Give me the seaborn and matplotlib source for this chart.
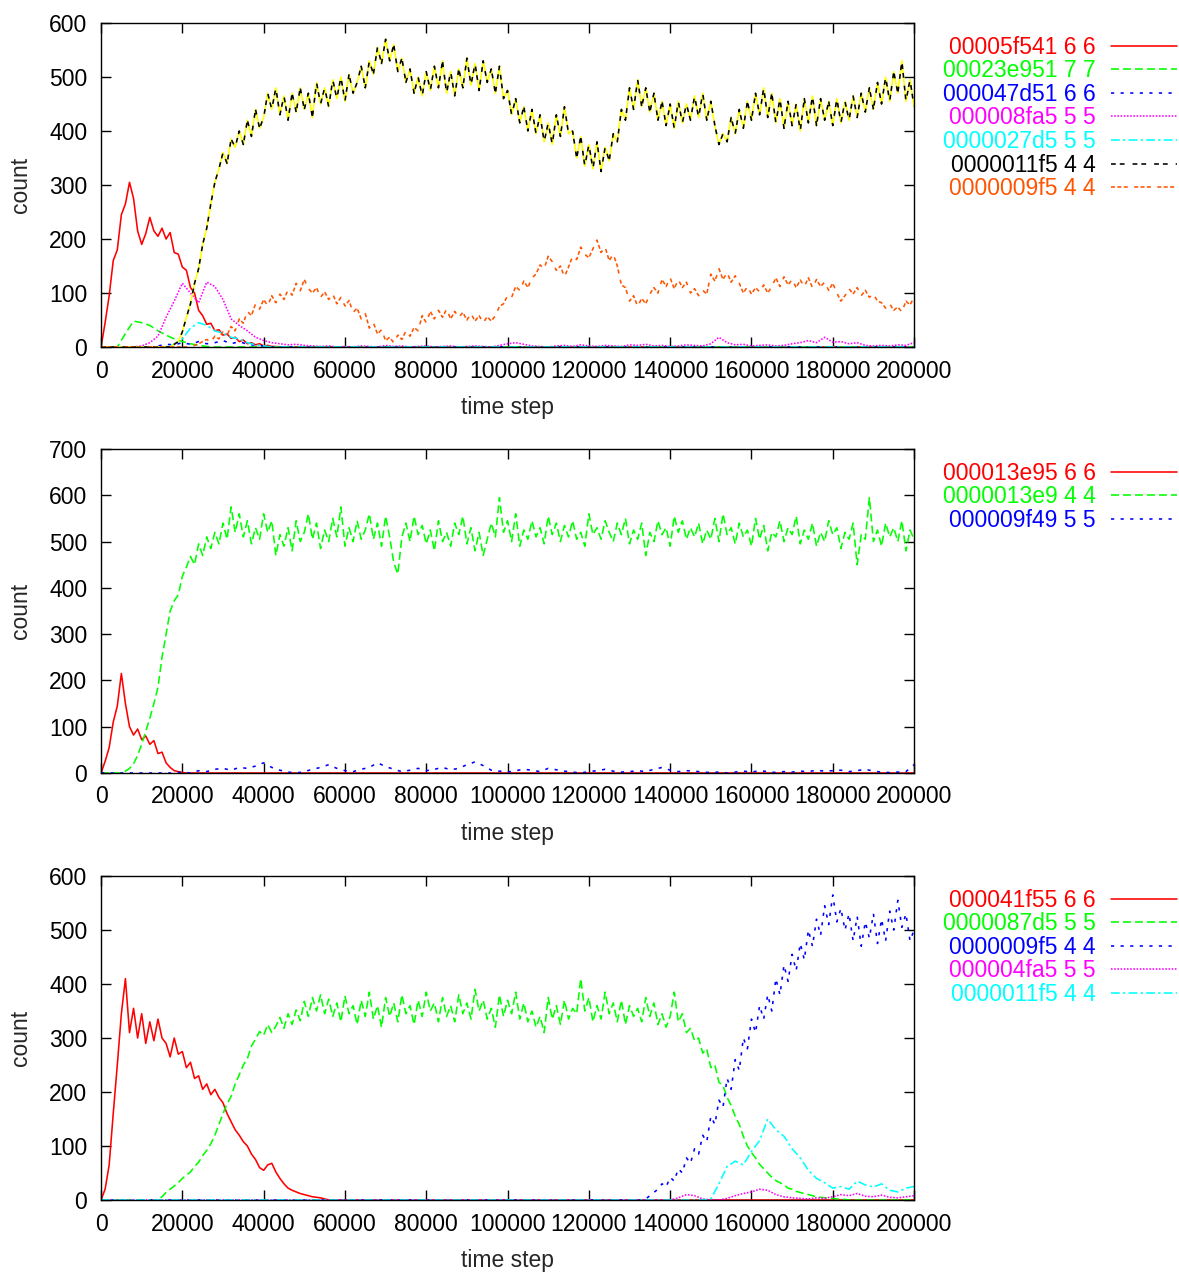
import numpy as np
import matplotlib
matplotlib.use('Agg')
import matplotlib.pyplot as plt
import seaborn as sns

# time steps: fine sampling (every 1000) for the busy series, coarse (every 2000) for the small ones
steps = np.arange(0, 200001, 1000)
steps_coarse = np.arange(0, 200001, 2000)

# ---- panel 1 ----
top_labels = ['00005f541 6 6', '00023e951 7 7', '000047d51 6 6', '000008fa5 5 5',
              '0000027d5 5 5', '0000011f5 4 4', '0000009f5 4 4']
top_red = [0, 45, 95, 160, 180, 245, 265, 305, 275, 215,
           190, 210, 240, 215, 205, 220, 200, 212, 175, 172,
           148, 142, 110, 100, 68, 58, 42, 44, 30, 32,
           22, 24, 16, 18, 10, 13, 6, 8, 4, 6,
           2, 3, 1, 1, 0] + [0] * 156
top_green = [0, 0, 0, 25, 48, 45, 40, 30, 22, 15, 10, 6, 3, 1] + [0] * 87
top_blue = [0] * 7 + [2, 5, 4, 8, 5, 10, 6, 8, 12, 6, 10, 5, 3, 2] + [0] * 80
top_magenta = [0] * 5 + [2, 8, 20, 55, 85, 118, 100, 82, 120, 112, 88, 52, 40, 30, 18, 12, 8, 6, 4, 5,
                         3, 2, 1, 2, 0, 1, 0, 2, 1, 0, 3, 1, 2, 0, 1, 2, 0, 1, 2, 0,
                         1, 2, 1, 0, 3, 6, 8, 5, 2, 1, 0, 2, 3, 1, 4, 2, 1, 3, 2, 1,
                         4, 3, 5, 2, 3, 1, 2, 4, 3, 2, 6, 18, 8, 4, 5, 2, 3, 4, 2, 3,
                         6, 8, 12, 8, 18, 9, 10, 6, 8, 3, 2, 3, 2, 4, 3, 8]
top_cyan = [0] * 9 + [5, 15, 35, 45, 40, 30, 25, 18, 15, 8, 4, 2] + [0] * 80
top_black = [0] * 18 + [5, 10, 28, 55, 80, 118, 145, 190, 220, 265,
                        305, 330, 360, 340, 385, 370, 400, 375, 420, 390,
                        440, 405, 425, 470, 440, 480, 430, 465, 420, 470,
                        435, 480, 440, 470, 425, 490, 450, 480, 445, 495,
                        460, 500, 455, 505, 470, 490, 520, 480, 530, 505,
                        555, 525, 570, 530, 560, 510, 535, 490, 515, 470,
                        500, 465, 510, 475, 520, 480, 530, 470, 510, 465,
                        515, 480, 535, 485, 525, 475, 530, 490, 515, 470,
                        520, 460, 475, 430, 460, 415, 445, 400, 440, 395,
                        430, 380, 415, 375, 430, 390, 445, 395, 400, 350,
                        390, 335, 375, 330, 380, 325, 370, 345, 395, 380,
                        440, 420, 480, 440, 495, 445, 480, 435, 470, 420,
                        455, 410, 450, 405, 455, 415, 450, 420, 465, 425,
                        470, 420, 455, 410, 375, 395, 380, 425, 395, 440,
                        405, 455, 420, 470, 430, 480, 425, 470, 415, 460,
                        405, 455, 410, 450, 400, 460, 415, 465, 410, 460,
                        420, 455, 410, 460, 415, 455, 420, 465, 425, 470,
                        435, 480, 440, 490, 450, 500, 455, 510, 470, 530,
                        455, 495, 445]
top_orange = [0] * 23 + [3, 6, 10, 14, 9, 20, 15, 28, 22, 38,
                         30, 52, 44, 66, 58, 80, 70, 88, 76, 95,
                         82, 98, 88, 106, 96, 118, 104, 125, 108, 100,
                         110, 92, 102, 88, 98, 80, 92, 76, 86, 64,
                         72, 52, 62, 35, 45, 24, 32, 12, 18, 8,
                         22, 14, 30, 20, 36, 30, 58, 45, 66, 52,
                         68, 55, 70, 52, 66, 55, 64, 50, 62, 48,
                         58, 45, 56, 48, 58, 75, 80, 95, 92, 112,
                         105, 122, 110, 128, 135, 152, 145, 168, 158, 142,
                         150, 130, 148, 168, 162, 185, 172, 165, 182, 198,
                         175, 185, 160, 172, 150, 115, 110, 85, 95, 75,
                         90, 80, 98, 110, 100, 125, 112, 128, 108, 125,
                         110, 120, 100, 108, 95, 105, 98, 135, 122, 145,
                         125, 138, 120, 132, 118, 100, 112, 98, 110, 102,
                         115, 100, 112, 128, 112, 130, 115, 125, 110, 124,
                         112, 128, 110, 125, 112, 120, 105, 118, 100, 85,
                         95, 108, 98, 110, 95, 105, 92, 98, 85, 82,
                         72, 80, 68, 74, 65, 85, 78, 92]

# ---- panel 2 ----
mid_labels = ['000013e95 6 6', '0000013e9 4 4', '000009f49 5 5']
mid_red = [0, 25, 55, 110, 145, 215, 150, 100, 82, 95,
           72, 80, 62, 70, 42, 45, 22, 12, 5, 3,
           1, 0, 0] + [0] * 178
mid_green = [0] * 6 + [4, 10, 20, 38, 62, 90, 118, 150, 185, 250,
                       300, 350, 372, 385, 425, 445, 468, 450, 495, 470,
                       510, 485, 520, 495, 540, 505, 575, 520, 560, 510,
                       545, 495, 530, 505, 560, 520, 545, 470, 515, 490,
                       530, 480, 545, 500, 520, 560, 505, 540, 485, 525,
                       500, 550, 510, 575, 490, 530, 500, 545, 505, 525,
                       560, 505, 540, 490, 555, 510, 455, 430, 510, 540,
                       500, 555, 515, 535, 495, 525, 480, 545, 500, 520,
                       490, 540, 515, 555, 495, 530, 480, 520, 470, 505,
                       540, 510, 595, 520, 545, 500, 560, 490, 525, 505,
                       545, 510, 530, 495, 555, 515, 540, 500, 535, 510,
                       545, 505, 520, 490, 560, 515, 530, 505, 545, 520,
                       500, 540, 515, 550, 495, 525, 505, 540, 470, 520,
                       500, 545, 515, 530, 490, 555, 520, 545, 505, 530,
                       510, 540, 495, 525, 505, 550, 500, 560, 515, 530,
                       495, 540, 510, 525, 490, 550, 505, 535, 480, 520,
                       510, 545, 500, 530, 515, 555, 495, 525, 505, 540,
                       490, 520, 500, 545, 515, 530, 485, 520, 505, 540,
                       450, 515, 505, 595, 500, 525, 490, 540, 510, 530,
                       500, 545, 480, 525, 505]
mid_blue = [0] * 10 + [2, 0, 5, 3, 8, 10, 6, 12, 10, 15,
                       22, 12, 6, 2, 0, 3, 8, 12, 18, 10,
                       5, 3, 8, 12, 22, 14, 8, 3, 6, 10,
                       5, 8, 12, 7, 10, 18, 24, 16, 6, 4,
                       2, 5, 8, 6, 3, 10, 7, 4, 2, 0,
                       3, 5, 8, 4, 2, 3, 5, 3, 8, 12,
                       6, 3, 5, 4, 2, 1, 2, 0, 2, 4,
                       2, 5, 3, 1, 3, 2, 4, 3, 6, 4,
                       5, 6, 3, 5, 8, 4, 2, 1, 2, 3,
                       18]

# ---- panel 3 ----
bot_labels = ['000041f55 6 6', '0000087d5 5 5', '0000009f5 4 4', '000004fa5 5 5', '0000011f5 4 4']
bot_red = [0, 20, 65, 160, 250, 345, 410, 310, 355, 300,
           345, 290, 330, 295, 335, 300, 290, 265, 300, 270,
           275, 245, 255, 225, 230, 205, 215, 195, 205, 190,
           180, 160, 145, 130, 120, 108, 100, 85, 75, 60,
           55, 65, 68, 52, 40, 30, 22, 18, 15, 12,
           10, 8, 6, 5, 4, 2, 0] + [0] * 144
bot_green = [0] * 14 + [1, 6, 14, 20, 26, 32, 40, 46, 52, 62,
                        70, 82, 92, 104, 120, 140, 160, 178, 192, 215,
                        232, 250, 262, 285, 298, 312, 305, 325, 310, 322,
                        338, 318, 345, 325, 352, 332, 368, 340, 375, 350,
                        380, 345, 372, 340, 365, 330, 378, 345, 360, 325,
                        370, 340, 385, 335, 360, 320, 375, 340, 365, 330,
                        380, 345, 360, 325, 370, 340, 385, 350, 365, 330,
                        375, 340, 360, 330, 380, 345, 365, 335, 390, 350,
                        370, 335, 355, 320, 380, 340, 370, 345, 385, 335,
                        365, 330, 350, 320, 340, 310, 375, 335, 360, 325,
                        370, 335, 355, 345, 410, 350, 375, 330, 360, 335,
                        385, 345, 365, 330, 370, 325, 360, 340, 355, 330,
                        375, 340, 365, 325, 345, 320, 340, 385, 330, 345,
                        310, 318, 295, 300, 272, 280, 245, 250, 218, 212,
                        190, 175, 155, 140, 118, 100, 88, 78, 66, 58,
                        50, 42, 36, 32, 28, 22, 20, 16, 14, 12,
                        10, 8, 6, 5, 4, 3, 3, 2, 1, 1] + [0] * 17
bot_blue = [0] * 134 + [2, 8, 14, 20, 30, 24, 42, 35, 58, 50,
                        78, 68, 95, 85, 120, 108, 155, 140, 185, 172,
                        225, 205, 260, 240, 300, 280, 335, 310, 360, 335,
                        380, 350, 410, 380, 435, 405, 455, 425, 475, 445,
                        500, 470, 520, 490, 545, 510, 565, 515, 540, 500,
                        530, 480, 525, 470, 515, 485, 530, 475, 520, 480,
                        535, 500, 555, 505, 530, 480, 500]
bot_magenta = [0] * 71 + [4, 10, 8, 2, 0, 0, 3, 8, 12, 15, 20, 18, 10, 6, 4,
                          3, 2, 4, 3, 6, 10, 8, 12, 7, 6, 9, 5, 4, 6, 8]
bot_cyan = [0] * 75 + [2, 30, 62, 72, 65, 90, 110, 150, 130, 118, 95, 78, 55,
                       40, 32, 22, 25, 20, 35, 28, 24, 30, 18, 15, 22, 25]

red, green, blue, magenta, cyan, black, orange = (
    '#ff0000', '#00ff00', '#0000ff', '#ff00ff', '#00ffff', '#000000', '#ff5500')
solid = '-'
dash_green = (0, (5, 2.5))
dash_blue = (0, (2, 4))
dot_magenta = (0, (1, 1))
dashdot_cyan = (0, (5.5, 2, 1.5, 2))
dash_black = (0, (3, 2.5, 3, 5))
dash_orange = (0, (2.5, 1.5, 2.5, 1.5, 2.5, 4))

sns.set_style('ticks')
plt.rcParams['font.family'] = ['Liberation Sans', 'DejaVu Sans']
plt.rcParams['font.size'] = 16.5

fig = plt.figure(figsize=(11.79, 12.72), dpi=100)
ax1 = fig.add_axes([0.0857, 0.7272, 0.6896, 0.2547])
ax2 = fig.add_axes([0.0857, 0.3923, 0.6896, 0.2547])
ax3 = fig.add_axes([0.0857, 0.0566, 0.6896, 0.2547])


def draw(ax, series, ymax):
    for xs, vals, label, color, ls in series:
        sns.lineplot(x=xs, y=vals, ax=ax, color=color, linestyle=ls, lw=1.15,
                     label=label, legend=False)
    ax.set_xlim(0, 200000)
    ax.set_ylim(0, ymax)
    ax.set_xticks(range(0, 200001, 20000))
    ax.set_yticks(range(0, ymax + 1, 100))
    ax.tick_params(direction='in', top=True, right=True, length=7, width=1,
                   labelsize=16.5, colors='black')
    ax.tick_params(axis='x', pad=9)
    ax.tick_params(axis='y', pad=10)
    for s in ax.spines.values():
        s.set_color('black')
        s.set_linewidth(1.0)
    ax.set_xlabel('time step', fontsize=16.5, labelpad=10)
    ax.set_ylabel('count', fontsize=16.5, labelpad=12)
    handles, labels = ax.get_legend_handles_labels()
    ax.legend(handles, labels, loc='upper right', bbox_to_anchor=(1.3235, 0.961),
              frameon=False, markerfirst=False, labelcolor='linecolor',
              handlelength=2.9, handletextpad=0.65, labelspacing=0.026,
              borderpad=0, borderaxespad=0, fontsize=16.5)


draw(ax1, [
    (steps, top_red, top_labels[0], red, solid),
    (steps_coarse, top_green, top_labels[1], green, dash_green),
    (steps_coarse, top_blue, top_labels[2], blue, dash_blue),
    (steps_coarse, top_magenta, top_labels[3], magenta, dot_magenta),
    (steps_coarse, top_cyan, top_labels[4], cyan, dashdot_cyan),
    (steps, top_black, '_under', '#ffff00', solid),
    (steps, top_black, top_labels[5], black, dash_black),
    (steps, top_orange, top_labels[6], orange, dash_orange),
], 600)

draw(ax2, [
    (steps, mid_red, mid_labels[0], red, solid),
    (steps, mid_green, mid_labels[1], green, dash_green),
    (steps_coarse, mid_blue, mid_labels[2], blue, dash_blue),
], 700)

draw(ax3, [
    (steps, bot_red, bot_labels[0], red, solid),
    (steps, bot_green, bot_labels[1], green, dash_green),
    (steps, bot_blue, bot_labels[2], blue, dash_blue),
    (steps_coarse, bot_magenta, bot_labels[3], magenta, dot_magenta),
    (steps_coarse, bot_cyan, bot_labels[4], cyan, dashdot_cyan),
], 600)

fig.savefig('out.png', dpi=100, facecolor='white')
